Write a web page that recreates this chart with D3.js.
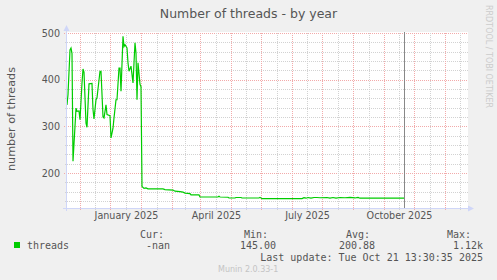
<!DOCTYPE html>
<html>
<head>
<meta charset="utf-8">
<script src="https://cdn.jsdelivr.net/npm/d3@7"></script>
<style>
  html, body { margin: 0; padding: 0; background: #f0f0f0; }
  svg { display: block; }
  text { font-family: "DejaVu Sans", sans-serif; }
  .mono { font-family: "DejaVu Sans Mono", monospace; font-size: 10px; fill: #555; }
</style>
</head>
<body>
<div id="chart"></div>
<script>
// series (daily-ish samples)
const days = [
  "2024-11-03","2024-11-04","2024-11-06","2024-11-07","2024-11-08","2024-11-09","2024-11-11","2024-11-12",
  "2024-11-13","2024-11-15","2024-11-16","2024-11-18","2024-11-19","2024-11-20","2024-11-22","2024-11-23",
  "2024-11-25","2024-11-28","2024-11-29","2024-11-30","2024-12-02","2024-12-03","2024-12-06","2024-12-07",
  "2024-12-09","2024-12-10","2024-12-12","2024-12-13","2024-12-16","2024-12-17","2024-12-19","2024-12-20",
  "2024-12-22","2024-12-23","2024-12-25","2024-12-26","2024-12-27","2024-12-29","2024-12-30","2024-12-31",
  "2025-01-02","2025-01-03","2025-01-04","2025-01-06","2025-01-08","2025-01-10","2025-01-11","2025-01-12",
  "2025-01-13","2025-01-15","2025-01-16","2025-01-17","2025-01-19","2025-01-21","2025-01-23","2025-02-07",
  "2025-02-09","2025-02-17","2025-02-19","2025-02-24","2025-02-27","2025-03-01","2025-03-06","2025-03-07",
  "2025-03-15","2025-03-16","2025-04-03","2025-04-04","2025-04-05","2025-04-13","2025-04-14","2025-04-20",
  "2025-04-21","2025-04-26","2025-04-27","2025-05-14","2025-05-15","2025-05-17","2025-06-26","2025-06-28",
  "2025-06-30","2025-07-02","2025-07-05","2025-07-08","2025-07-11","2025-07-14","2025-07-21","2025-07-24",
  "2025-07-27","2025-07-30","2025-08-03","2025-08-08","2025-08-13","2025-08-18","2025-08-21","2025-08-23",
  "2025-10-06"
];
const threads = [
  346, 368, 464, 468, 456, 225, 300, 339,
  332, 333, 314, 393, 423, 416, 307, 298,
  391, 392, 336, 316, 357, 361, 418, 418,
  320, 318, 346, 325, 323, 275, 296, 318,
  357, 357, 425, 425, 375, 493, 471, 475,
  468, 436, 418, 429, 393, 479, 457, 357,
  436, 390, 385, 171, 167, 168, 166, 166,
  164.5, 163.5, 161, 160, 159, 157, 156, 153,
  153, 148.6, 148.6, 150, 148.6, 148, 146.4, 146.4,
  147.5, 147.5, 146.4, 146.4, 147.8, 145, 145, 147,
  146, 147.5, 146, 147.5, 147.5, 147, 147.5, 146,
  147.5, 146, 147.5, 147, 147.8, 146.5, 147.8, 146,
  146
];
const spikeDays = ["2025-10-06"];

const yTicks = [200, 300, 400, 500];
const xLabelDays = ["2025-01-01", "2025-04-01", "2025-07-01", "2025-10-01"];
const majorGridDays = ["2024-11-16","2024-12-16","2025-01-16","2025-02-16","2025-03-16","2025-04-16",
  "2025-05-16","2025-06-16","2025-07-16","2025-08-16","2025-09-16","2025-10-16","2025-11-16"];
const minorGridDays = ["2024-12-01","2025-01-01","2025-02-01","2025-03-01","2025-04-01","2025-05-01",
  "2025-06-01","2025-07-01","2025-08-01","2025-09-01","2025-10-01","2025-11-01","2025-12-01"];

const legendHeads = ["Cur:", "Min:", "Avg:", "Max:"];
const legendValues = ["-nan", "145.00", "200.88", "1.12k"];

const W = 497, H = 280;
const pL = 67, pR = 468, pT = 33, pB = 208;
const parse = d3.utcParse("%Y-%m-%d");

const svg = d3.select("#chart").append("svg")
  .attr("width", W).attr("height", H);

svg.append("rect").attr("width", W).attr("height", H).attr("fill", "#f0f0f0");

const x = d3.scaleUtc()
  .domain([parse("2024-11-03"), parse("2025-12-09")])
  .range([pL, pR]);
const y = d3.scaleLinear().domain([125, 500]).range([pB, pT]);

// canvas
svg.append("rect")
  .attr("x", pL).attr("y", pT - 1)
  .attr("width", pR - pL).attr("height", pB - pT + 1)
  .attr("fill", "#fff");

const grid = svg.append("g").attr("shape-rendering", "crispEdges");
const minorCol = "#d2d2d2", majorCol = "#f2aaaa";

// horizontal grid
const minorY = d3.range(140, 501, 20).filter(v => !yTicks.includes(v));
grid.selectAll("line.hmin").data(minorY).join("line")
  .attr("x1", pL - 2).attr("x2", pR)
  .attr("y1", d => Math.round(y(d)) + 0.5).attr("y2", d => Math.round(y(d)) + 0.5)
  .attr("stroke", minorCol).attr("stroke-dasharray", "1,1");
grid.selectAll("line.hmaj").data(yTicks).join("line")
  .attr("x1", pL - 3).attr("x2", pR)
  .attr("y1", d => Math.round(y(d)) + 0.5).attr("y2", d => Math.round(y(d)) + 0.5)
  .attr("stroke", majorCol).attr("stroke-dasharray", "1,1");

// vertical grid
grid.selectAll("line.vmin").data(minorGridDays.map(parse)).join("line")
  .attr("x1", d => Math.round(x(d)) + 0.5).attr("x2", d => Math.round(x(d)) + 0.5)
  .attr("y1", pT).attr("y2", pB + 2)
  .attr("stroke", minorCol).attr("stroke-dasharray", "1,1");
grid.selectAll("line.vmaj").data(majorGridDays.map(parse)).join("line")
  .attr("x1", d => Math.round(x(d)) + 0.5).attr("x2", d => Math.round(x(d)) + 0.5)
  .attr("y1", pT).attr("y2", pB + 3)
  .attr("stroke", majorCol).attr("stroke-dasharray", "1,1");

// the series
const pts = days.map((d, i) => ({ t: parse(d), v: threads[i] }));
svg.append("path")
  .datum(pts)
  .attr("fill", "none")
  .attr("stroke", "#00cc00")
  .attr("stroke-width", 1.2)
  .attr("d", d3.line().x(d => x(d.t)).y(d => y(d.v)));

// spike past the top of the canvas
svg.selectAll("line.spike").data(spikeDays.map(parse)).join("line")
  .attr("x1", d => Math.round(x(d)) + 0.5).attr("x2", d => Math.round(x(d)) + 0.5)
  .attr("y1", pT - 1).attr("y2", pB)
  .attr("stroke", "#888").attr("shape-rendering", "crispEdges");

// axes lines + arrows
const axisCol = "#cfd6f8";
svg.append("line").attr("x1", pL - 0.5).attr("x2", pL - 0.5)
  .attr("y1", pB + 3).attr("y2", pT - 4)
  .attr("stroke", axisCol).attr("shape-rendering", "crispEdges");
svg.append("line").attr("x1", pL - 4).attr("x2", pR + 2)
  .attr("y1", pB + 0.5).attr("y2", pB + 0.5)
  .attr("stroke", axisCol).attr("shape-rendering", "crispEdges");
svg.append("path")
  .attr("d", `M${pL - 3.5},${pT - 2} L${pL - 0.5},${pT - 8} L${pL + 2.5},${pT - 2} Z`)
  .attr("fill", axisCol);
svg.append("path")
  .attr("d", `M${pR},${pB - 2.5} L${pR + 6},${pB + 0.5} L${pR},${pB + 3.5} Z`)
  .attr("fill", axisCol);

// tick labels via d3 axes
const yAxis = svg.append("g")
  .attr("transform", `translate(${pL},0)`)
  .call(d3.axisLeft(y).tickValues(yTicks).tickSize(0).tickPadding(7));
yAxis.select(".domain").remove();
yAxis.selectAll("text").attr("font-family", "DejaVu Sans").attr("font-size", 9.6).attr("fill", "#555");

const xAxis = svg.append("g")
  .attr("transform", `translate(0,${pB})`)
  .call(d3.axisBottom(x).tickValues(xLabelDays.map(parse))
    .tickFormat(d3.utcFormat("%B %Y")).tickSize(0).tickPadding(4));
xAxis.select(".domain").remove();
xAxis.selectAll("text").attr("font-family", "DejaVu Sans").attr("font-size", 9.6).attr("fill", "#555");

// title and labels
svg.append("text").attr("x", 248.5).attr("y", 18)
  .attr("text-anchor", "middle").attr("font-size", 12.5).attr("fill", "#555")
  .text("Number of threads - by year");
svg.append("text")
  .attr("transform", "translate(15,119) rotate(-90)")
  .attr("text-anchor", "middle").attr("font-size", 11.2).attr("fill", "#555")
  .text("number of threads");
svg.append("text")
  .attr("transform", "translate(486,5) rotate(90)")
  .attr("font-size", 8).attr("fill", "#ccc")
  .text("RRDTOOL / TOBI OETIKER");

// legend
svg.append("rect").attr("x", 14).attr("y", 242).attr("width", 6).attr("height", 6)
  .attr("fill", "#00cc00");
svg.append("text").attr("class", "mono").attr("x", 27).attr("y", 249).text("threads");

const headX = [140, 244, 346, 447];
const valEnd = [170, 276, 375, 483];
svg.selectAll("text.head").data(legendHeads).join("text")
  .attr("class", "mono head").attr("x", (d, i) => headX[i]).attr("y", 237.5).text(d => d);
svg.selectAll("text.val").data(legendValues).join("text")
  .attr("class", "mono val").attr("text-anchor", "end")
  .attr("x", (d, i) => valEnd[i]).attr("y", 249).text(d => d);

svg.append("text").attr("class", "mono").attr("text-anchor", "end")
  .attr("x", 483).attr("y", 261)
  .text("Last update: Tue Oct 21 13:30:35 2025");

svg.append("text").attr("x", 218).attr("y", 272)
  .attr("font-size", 8).attr("fill", "#c4c4c4")
  .text("Munin 2.0.33-1");
</script>
</body>
</html>
